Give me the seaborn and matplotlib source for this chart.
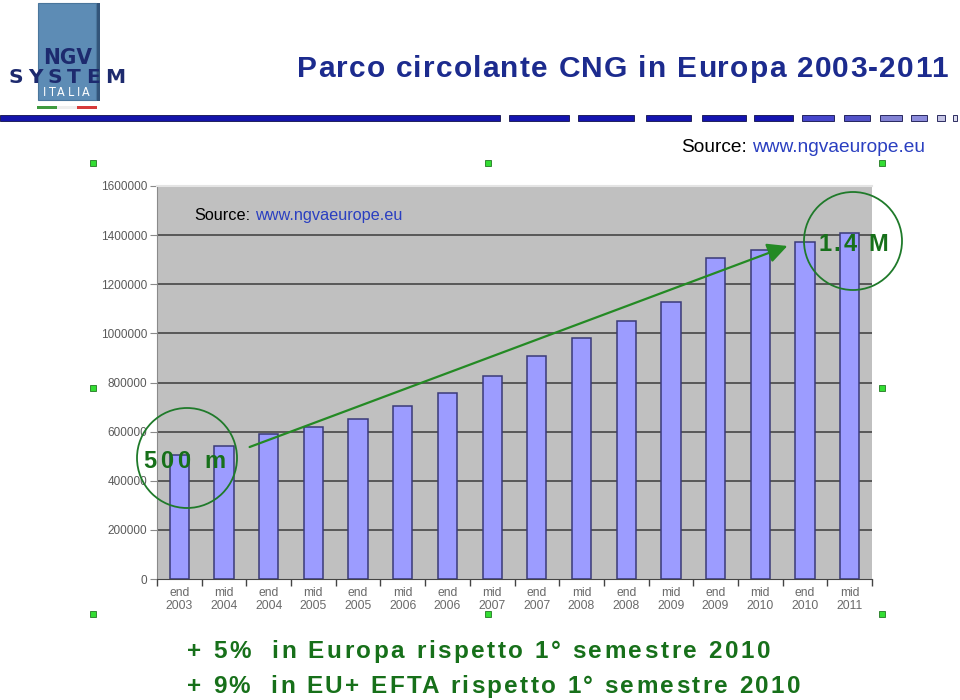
import matplotlib
matplotlib.use("Agg")
import matplotlib.pyplot as plt
import seaborn as sns
import pandas as pd
from matplotlib import font_manager as fm
from matplotlib.patches import Rectangle, Ellipse, FancyArrowPatch

# ---------------- data ----------------
periods = ["end", "mid", "end", "mid", "end", "mid", "end", "mid",
           "end", "mid", "end", "mid", "end", "mid", "end", "mid"]
years = [2003, 2004, 2004, 2005, 2005, 2006, 2006, 2007,
         2007, 2008, 2008, 2009, 2009, 2010, 2010, 2011]
vehicles = [505000, 543000, 589000, 618000, 651000, 704000, 756000, 826000,
            909000, 980000, 1049000, 1127000, 1307000, 1339000, 1373000, 1409000]
y_ticks = [0, 200000, 400000, 600000, 800000, 1000000, 1200000, 1400000, 1600000]

title = "Parco circolante CNG in Europa 2003-2011"
source_prefix = "Source:"
source_url = "www.ngvaeurope.eu"
start_label = "500 m"
end_label = "1.4 M"
notes = ["+ 5%  in Europa rispetto 1° semestre 2010",
         "+ 9%  in EU+ EFTA rispetto 1° semestre 2010"]
logo_words = ["NGV", "SYSTEM", "ITALIA"]

labels = [f"{p}\n{y}" for p, y in zip(periods, years)]
df = pd.DataFrame({"label": labels, "vehicles": vehicles})

# ---------------- fonts ----------------
SANS = ["Liberation Sans", "DejaVu Sans"]


def _found(**props):
    try:
        return fm.findfont(fm.FontProperties(**props), fallback_to_default=False)
    except Exception:
        return None


if _found(family="Liberation Sans Narrow", weight="bold"):
    NARROW = dict(family=["Liberation Sans Narrow", "Liberation Sans"])
elif "Condensed" in (_found(family="DejaVu Sans", stretch="condensed", weight="bold") or ""):
    NARROW = dict(family=["DejaVu Sans"], stretch="condensed")
else:
    NARROW = dict(family=SANS)

# ---------------- figure helpers ----------------
W, H = 960, 700
fig = plt.figure(figsize=(9.6, 7), dpi=100, facecolor="white")
renderer = fig.canvas.get_renderer()


def fx(x):
    return x / W


def fy(y):
    return 1 - y / H


def twidth(s, **kw):
    t = fig.text(0, 0, s, **kw)
    w = t.get_window_extent(renderer).width
    t.remove()
    return w


def tracked(x0, base, s, width, **kw):
    """Draw text letter-spaced so that it spans `width` pixels."""
    natural = twidth(s, **kw)
    n = len(s)
    track = (width - natural) / (n - 1) if n > 1 else 0
    for i, ch in enumerate(s):
        if ch == " ":
            continue
        left = twidth(s[:i + 1], **kw) - twidth(ch, **kw) + i * track
        fig.text(fx(x0 + left), fy(base), ch, ha="left", va="baseline", **kw)


def fitted(x0, base, s, width, size, **kw):
    w = twidth(s, fontsize=size, **kw)
    fig.text(fx(x0), fy(base), s, ha="left", va="baseline",
             fontsize=size * width / w, **kw)


def source_line(x0, base, size):
    kw = dict(fontsize=size, family=SANS)
    fig.text(fx(x0), fy(base), source_prefix, color="black", va="baseline", **kw)
    off = twidth(source_prefix + " w", **kw) - twidth("w", **kw)
    fig.text(fx(x0 + off), fy(base), source_url, color="#2a3fc0", va="baseline", **kw)


# ---------------- chart ----------------
ax = fig.add_axes([fx(157), fy(579), (872 - 157) / W, (579 - 186) / H])
ax.set_facecolor("#c0c0c0")
ax.hlines(y_ticks[1:-1], -0.5, len(labels) - 0.5, colors="#585858",
          linewidth=1.4, zorder=0.5)
sns.barplot(data=df, x="label", y="vehicles", color="#9c9cff",
            edgecolor="#3a3a78", linewidth=1.1, width=0.43, saturation=1,
            ax=ax, zorder=2)
ax.set_xlim(-0.5, len(labels) - 0.5)
ax.set_ylim(y_ticks[0], y_ticks[-1])
ax.set_xlabel("")
ax.set_ylabel("")
ax.set_yticks(y_ticks)
ax.set_yticklabels([str(v) for v in y_ticks], fontsize=8.5, color="#5a5a5a",
                   family=SANS)
ax.tick_params(axis="y", length=5, color="#8a8a8a", pad=2)
ax.set_xticks(range(len(labels)))
ax.set_xticklabels(labels, fontsize=8.7, color="#6a6a6a", family=SANS,
                   linespacing=1.05)
ax.tick_params(axis="x", which="major", length=0, pad=6)
ax.set_xticks([i - 0.5 for i in range(len(labels) + 1)], minor=True)
ax.tick_params(axis="x", which="minor", length=5, color="#444444", width=1)
ax.spines["right"].set_visible(False)
ax.spines["top"].set_color("#e4e4e4")
ax.spines["top"].set_linewidth(1.5)
ax.spines["left"].set_color("#8a8a8a")
ax.spines["bottom"].set_color("#444444")

# source inside chart
source_line(194, 220, 11.7)

# selection handles around the chart picture
for hx, hy in [(93, 163), (488, 163), (882, 163), (93, 388), (882, 388),
               (93, 614), (488, 614), (882, 614)]:
    fig.patches.append(Rectangle((fx(hx - 3), fy(hy + 3)), 6 / W, 6 / H,
                                 transform=fig.transFigure, facecolor="#33dd33",
                                 edgecolor="#227722", linewidth=0.6, zorder=5))

# ---------------- annotations ----------------
green = "#17701a"
for cx, cy, r in [(187, 458, 50), (853, 241, 49)]:
    fig.patches.append(Ellipse((fx(cx), fy(cy)), 2 * r / W, 2 * r / H,
                               transform=fig.transFigure, fill=False,
                               edgecolor="#1f7a2a", linewidth=1.3, zorder=6))
fig.patches.append(FancyArrowPatch((fx(247), fy(448)), (fx(790), fy(245)),
                                   transform=fig.transFigure,
                                   arrowstyle="-|>,head_length=0.6,head_width=0.3",
                                   mutation_scale=20, color="#248a24",
                                   linewidth=1.6, zorder=6))
tracked(143, 468, start_label, 82, fontsize=17, weight="bold", color=green, family=SANS)
tracked(818, 251, end_label, 70, fontsize=17, weight="bold", color=green, family=SANS)

tracked(187, 658, notes[0], 583, fontsize=17.5, weight="bold", color=green, family=SANS)
tracked(187, 693, notes[1], 613, fontsize=17.5, weight="bold", color=green, family=SANS)

# ---------------- header ----------------
tracked(297, 77, title, 651, fontsize=21.5, weight="bold", color="#1c2b8e", family=SANS)
source_line(681, 152, 13.8)

# divider dashes
for x0, x1, c in [(0, 500, "#1414aa"), (509, 569, "#1414b0"), (578, 634, "#1414b0"),
                  (646, 691, "#1414b0"), (702, 746, "#1414b0"), (754, 793, "#1414b0"),
                  (802, 834, "#4646cc"), (844, 870, "#5252c8"), (880, 902, "#8282d4"),
                  (911, 927, "#8c8cdc"), (937, 945, "#c4c4e4"), (953, 957, "#dcdcee")]:
    fig.patches.append(Rectangle((fx(x0), fy(121)), (x1 - x0) / W, 6 / H,
                                 transform=fig.transFigure, facecolor=c,
                                 edgecolor="#10104a", linewidth=0.6, zorder=3))

# logo
fig.patches.append(Rectangle((fx(40), fy(101)), 60 / W, 98 / H, transform=fig.transFigure,
                             facecolor="#33557a", edgecolor="none", zorder=2))
fig.patches.append(Rectangle((fx(38), fy(100)), 58 / W, 97 / H, transform=fig.transFigure,
                             facecolor="#5d8cb5", edgecolor="#4a769c", linewidth=0.8,
                             zorder=3))
for x0, x1, c in [(37, 57, "#3f9a3f"), (57, 77, "#eeeeee"), (77, 97, "#d63a3a")]:
    fig.patches.append(Rectangle((fx(x0), fy(109)), (x1 - x0) / W, 3 / H,
                                 transform=fig.transFigure, facecolor=c,
                                 edgecolor="none", zorder=3))
fitted(43, 64, logo_words[0], 49, 30, weight="bold", color="#1d2a6e", zorder=4, **NARROW)
tracked(8, 83, logo_words[1], 117, fontsize=14.5, weight="bold", color="#1d2a6e",
        family=["DejaVu Sans"], zorder=4)
tracked(43, 96, logo_words[2], 47, fontsize=9, color="white", zorder=4, **NARROW)

fig.savefig("out.png", dpi=100, facecolor="white")
